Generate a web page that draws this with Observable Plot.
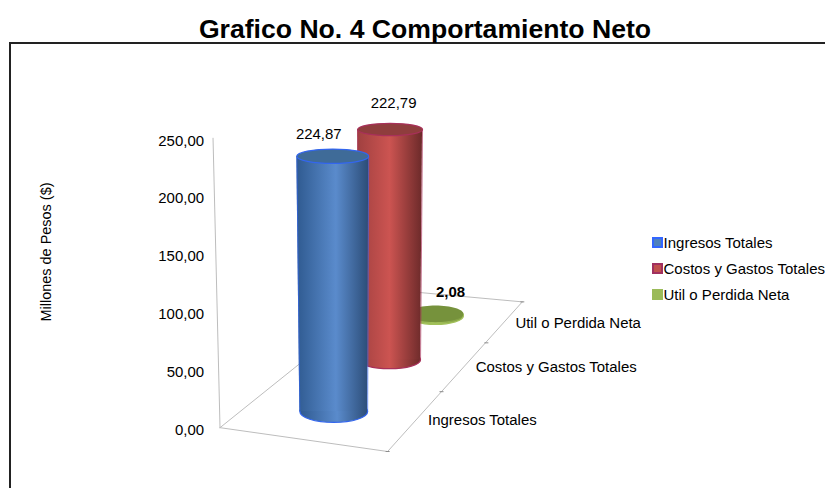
<!DOCTYPE html>
<html lang="es">
<head>
<meta charset="utf-8">
<script src="https://cdn.jsdelivr.net/npm/d3@7"></script>
<script src="https://cdn.jsdelivr.net/npm/@observablehq/plot@0.6"></script>
<style>
  html, body { margin: 0; padding: 0; background: #fff; overflow: hidden; }
  body { width: 825px; height: 488px; font-family: "Liberation Sans", Arial, sans-serif; color: #000; }
  #title { box-sizing: border-box; width: 800px; margin-left: 25px; height: 42px; padding-top: 16px;
           font-size: 26.6px; line-height: 26px; font-weight: bold; text-align: center; white-space: nowrap; }
  #frame { box-sizing: border-box; margin-left: 9px; width: 816px; height: 446px; display: flex;
           border-left: 2px solid #222; border-top: 2px solid #222; }
  #frame svg { display: block; flex: none; }
  #legend { flex: none; margin-left: 12px; padding-top: 185px; font-size: 15px; }
  .item { display: flex; align-items: center; height: 26px; white-space: nowrap; }
  .swatch { box-sizing: border-box; width: 11px; height: 11px; margin-right: 1px; margin-left: 1px; border-style: solid; border-width: 2px; }
</style>
</head>
<body>
<div id="title">Grafico No. 4 Comportamiento Neto</div>
<div id="frame"><div id="chart"></div><div id="legend"></div></div>
<script>
// ---- values
const seriesNames = ["Ingresos Totales", "Costos y Gastos Totales", "Util o Perdida Neta"];
const seriesValues = [224.87, 222.79, 2.08];
const valueTicks = [0, 50, 100, 150, 200, 250];

// ---- perspective of the 3D scene (value-axis units on y, scene units on x)
const depthBase = [14.7, 59.5, 97.5];        // where each cylinder stands, seen against the value axis
const depthScale = [0.981, 0.893, 0.8];      // foreshortening of the value at that depth
const topCenterX = [333, 390.5, 436];
const topHalfWidth = [36, 32.5, 28];
const baseCenterX = [334, 390, 436];
const baseHalfWidth = [34, 31, 28];
const capRatio = [0.2, 0.19, 0.3];
const baseRatio = [0.32, 0.29, 0.31];
const labelX = [319, 394, 451];
const labelLift = [19, 23, 19];
const categoryX = [483, 557, 579];
const categoryY = [7, 52.7, 91];
const floorX = [220, 388, 523];
const floorY = [0.8, -19.8, 109.5];
const backX = [220, 392, 523];
const backY = [0.8, 119.8, 109.5];
const wallX = [220, 213];
const wallY = [0.8, 250.9];
const tickPosX = [388, 442, 487, 523];
const tickPosY = [-19.8, 31.9, 74.1, 109.5];

// ---- styles
const sideStroke = ["#3366ee", "#a8305a", "#a2c15a"];
const capFill = ["#3f6b98", "#8f3d3d", "#76923c"];
const swatchFill = ["#4f81bd", "#c0504d", "#9bbb59"];
const swatchBorder = ["#3366ff", "#a0305f", "#9bbb59"];
const gradients = [
  [["0%", "#2f5a90"], ["55%", "#5a8bcc"], ["100%", "#2c4d78"]],
  [["0%", "#a04040"], ["50%", "#cc5451"], ["100%", "#6c2a2a"]],
  [["0%", "#8aa84a"], ["50%", "#a2c15a"], ["100%", "#7d9a40"]]
];

const rows = seriesNames.map((name, i) => ({
  name, i, value: seriesValues[i],
  bottom: depthBase[i], top: depthBase[i] + seriesValues[i] * depthScale[i]
}));

const ellipse = ratio => ({
  draw(c, size) {
    const a = Math.sqrt(size / Math.PI), b = a * ratio, k = 0.5523;
    c.moveTo(a, 0);
    c.bezierCurveTo(a, k * b, k * a, b, 0, b);
    c.bezierCurveTo(-k * a, b, -a, k * b, -a, 0);
    c.bezierCurveTo(-a, -k * b, -k * a, -b, 0, -b);
    c.bezierCurveTo(k * a, -b, a, -k * b, a, 0);
    c.closePath();
  }
});

const cylinder = d => {
  const i = d.i, fill = `url(#grad${i})`, stroke = sideStroke[i];
  const bl = baseCenterX[i] - baseHalfWidth[i], br = baseCenterX[i] + baseHalfWidth[i];
  const tl = topCenterX[i] - topHalfWidth[i], tr = topCenterX[i] + topHalfWidth[i];
  const body = [{xa: bl, xb: br, y: d.bottom}, {xa: tl, xb: tr, y: d.top}];
  const side = x => Plot.link([d], {x1: x[0], x2: x[1], y1: "bottom", y2: "top", stroke, strokeWidth: 1, strokeOpacity: 0.65});
  return [
    Plot.dot([d], {x: () => baseCenterX[i], y: "bottom", r: baseHalfWidth[i], symbol: ellipse(baseRatio[i]), fill, stroke, strokeWidth: 1.2}),
    Plot.area(body, {x1: "xa", x2: "xb", y1: "y", y2: "y", fill}),
    side([() => bl, () => tl]),
    side([() => br, () => tr]),
    Plot.dot([d], {x: () => topCenterX[i], y: "top", r: topHalfWidth[i], symbol: ellipse(capRatio[i]), fill: capFill[i], stroke: i === 2 ? "none" : stroke, strokeWidth: 1.2})
  ];
};

const line = (xs, ys) => Plot.line(xs.map((x, j) => [x, ys[j]]), {x: "0", y: "1", stroke: "#bdbdbd", strokeWidth: 1, curve: "linear"});
const fmt = v => v.toFixed(2).replace(".", ",");
const dataLabels = (data, fontWeight) => Plot.text(data, {x: d => labelX[d.i], y: d => d.top + labelLift[d.i], text: d => fmt(d.value), fontWeight, fontSize: 15});

const chart = Plot.plot({
  width: 629, height: 444,
  marginLeft: 199, marginRight: 0, marginTop: 31, marginBottom: 59,
  style: {fontFamily: "'Liberation Sans', Arial, sans-serif", fontSize: "15px", color: "#000", background: "#fff", overflow: "visible"},
  x: {domain: [11, 640], range: [0, 629], axis: null},
  y: {domain: [0, 250], range: [385, 95]},
  marks: [
    Plot.axisY({ticks: valueTicks, tickSize: 0, tickPadding: 6, tickFormat: fmt, fontSize: 15, dy: 1.5, label: null}),
    Plot.axisY({ticks: [], label: "Millones de Pesos ($)", labelAnchor: "center", labelArrow: "none", labelOffset: 170, fontSize: 14.5}),
    line(backX, backY),
    line(wallX, wallY),
    line(floorX, floorY),
    Plot.link(tickPosX.map((x, j) => [x, tickPosY[j]]), {x1: d => d[0] - 2, x2: d => d[0] + 2, y1: "1", y2: "1", stroke: "#8c8c8c", strokeWidth: 1}),
    ...[2, 1, 0].flatMap(i => cylinder(rows[i])),
    dataLabels(rows.slice(0, 2), "normal"),
    dataLabels(rows.slice(2), "bold"),
    Plot.text(seriesNames, {x: (d, i) => categoryX[i], y: (d, i) => categoryY[i], text: d => d, fontSize: 15})
  ]
});

const defs = d3.select(chart).append("defs");
gradients.forEach((stops, i) => {
  const g = defs.append("linearGradient").attr("id", `grad${i}`).attr("x1", 0).attr("x2", 1).attr("y1", 0).attr("y2", 0);
  stops.forEach(([offset, color]) => g.append("stop").attr("offset", offset).attr("stop-color", color));
});
document.getElementById("chart").append(chart);

const legend = d3.select("#legend");
seriesNames.forEach((name, i) => {
  const item = legend.append("div").attr("class", "item");
  item.append("span").attr("class", "swatch").style("background", swatchFill[i]).style("border-color", swatchBorder[i]);
  item.append("span").text(name);
});
</script>
</body>
</html>
